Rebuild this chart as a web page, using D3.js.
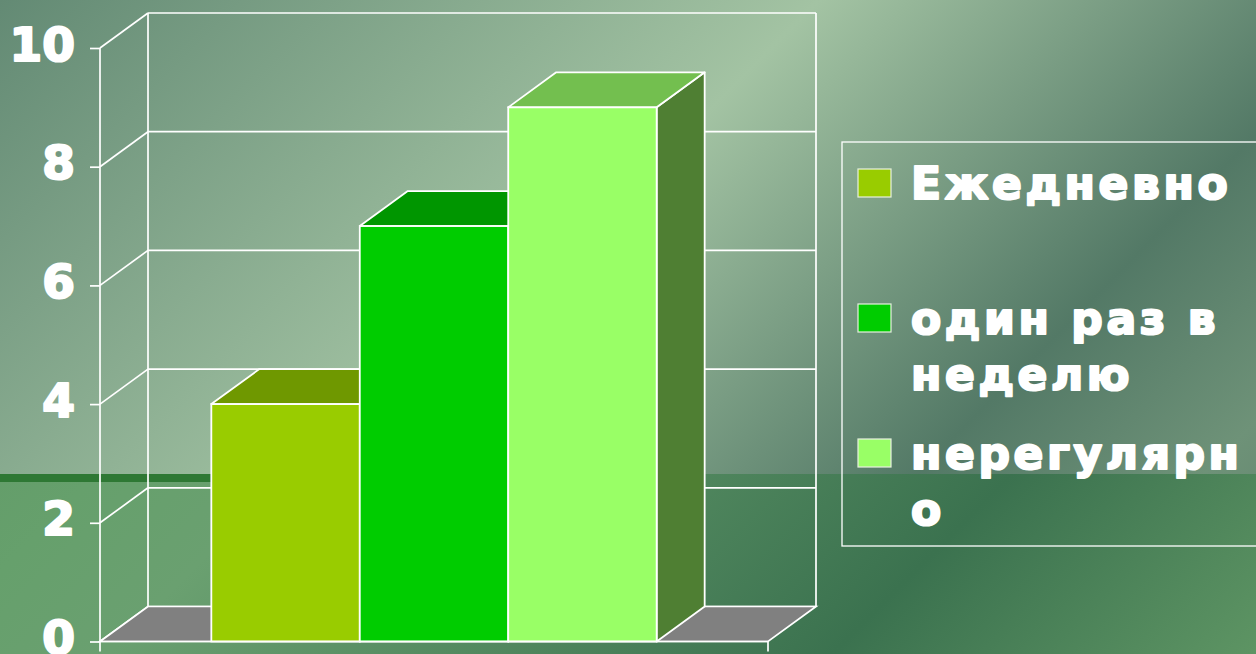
<!DOCTYPE html>
<html>
<head>
<meta charset="utf-8">
<script src="https://cdn.jsdelivr.net/npm/d3@7/dist/d3.min.js"></script>
<style>
  html, body { margin: 0; padding: 0; background: #5a8a68; overflow: hidden; }
  svg { display: block; }
</style>
</head>
<body>
<svg id="chart" width="1256" height="654"></svg>
<script>
// ---- data ----
const series = ["Ежедневно", "один раз в неделю", "нерегулярно"];
const values = [4, 7, 9];
const legendLines = [["Ежедневно"], ["один раз в", "неделю"], ["нерегулярн", "о"]];
const yTicks = [0, 2, 4, 6, 8, 10];
const frontColors = ["#99cc00", "#00cc00", "#99ff66"];
const topColors = ["#6f9800", "#009600", "#73bf4f"];
const sideColors = ["#4d6600", "#006600", "#4f7f33"];

// ---- layout ----
const W = 1256, H = 654;
const svg = d3.select("#chart");
const defs = svg.append("defs");

// background gradients
function grad(id, stops) {
  const g = defs.append("linearGradient").attr("id", id)
    .attr("gradientUnits", "userSpaceOnUse")
    .attr("x1", 0).attr("y1", 0).attr("x2", 953).attr("y2", 953);
  stops.forEach(s => g.append("stop").attr("offset", s[0]).attr("stop-color", s[1]));
}
grad("bgTop", [[0, "#638a74"], [0.43, "#a3c3a3"], [0.73, "#537966"], [0.88, "#6e9278"], [1, "#5f806a"]]);
grad("bgBot", [[0, "#5a9262"], [0.3, "#66a06c"], [0.4, "#6aa070"], [0.78, "#3b724f"], [1, "#5d9463"]]);
const stripe = defs.append("linearGradient").attr("id", "stripe")
  .attr("x1", 0).attr("y1", 0).attr("x2", 1).attr("y2", 0);
stripe.append("stop").attr("offset", 0).attr("stop-color", "#2e7834").attr("stop-opacity", 1);
stripe.append("stop").attr("offset", 0.45).attr("stop-color", "#2e7834").attr("stop-opacity", 1);
stripe.append("stop").attr("offset", 1).attr("stop-color", "#2e7834").attr("stop-opacity", 0);

const splitY = 474;
svg.append("rect").attr("x", 0).attr("y", 0).attr("width", W).attr("height", splitY).attr("fill", "url(#bgTop)");
svg.append("rect").attr("x", 0).attr("y", splitY).attr("width", W).attr("height", H - splitY).attr("fill", "url(#bgBot)");
svg.append("rect").attr("x", 0).attr("y", splitY).attr("width", 600).attr("height", 8).attr("fill", "url(#stripe)");

// scales
const y = d3.scaleLinear().domain([0, 10]).range([641.5, 48]);
const x = d3.scaleBand().domain(series).range([100, 768]).paddingInner(0).paddingOuter(0.75);
const DX = 48, DY = -35;
const [xL, xR] = x.range();
const y0 = y(0);

const lineStyle = sel => sel.attr("stroke", "#ffffff").attr("stroke-width", 1.7).attr("fill", "none");

// walls: gridlines on back wall + diagonals on side wall
const walls = svg.append("g");
yTicks.forEach(v => {
  walls.append("line").attr("x1", xL + DX).attr("x2", xR + DX)
    .attr("y1", y(v) + DY).attr("y2", y(v) + DY).call(lineStyle);
  walls.append("line").attr("x1", xL).attr("x2", xL + DX)
    .attr("y1", y(v)).attr("y2", y(v) + DY).call(lineStyle);
});
walls.append("line").attr("x1", xL + DX).attr("x2", xL + DX)
  .attr("y1", y(10) + DY).attr("y2", y0 + DY).call(lineStyle);
walls.append("line").attr("x1", xR + DX).attr("x2", xR + DX)
  .attr("y1", y(10) + DY).attr("y2", y0 + DY).call(lineStyle);

// floor
svg.append("polygon")
  .attr("points", [[xL, y0], [xR, y0], [xR + DX, y0 + DY], [xL + DX, y0 + DY]].map(p => p.join(",")).join(" "))
  .attr("fill", "#808080").attr("stroke", "#ffffff").attr("stroke-width", 1.7);

// bars
const bw = x.bandwidth();
const bars = svg.append("g");
series.forEach((s, i) => {
  const x0 = x(s), x1 = x0 + bw, yt = y(values[i]);
  const g = bars.append("g");
  g.append("polygon")
    .attr("points", [[x1, yt], [x1 + DX, yt + DY], [x1 + DX, y0 + DY], [x1, y0]].map(p => p.join(",")).join(" "))
    .attr("fill", sideColors[i]).attr("stroke", "#fff").attr("stroke-width", 1.8).attr("stroke-linejoin", "round");
  g.append("polygon")
    .attr("points", [[x0, yt], [x0 + DX, yt + DY], [x1 + DX, yt + DY], [x1, yt]].map(p => p.join(",")).join(" "))
    .attr("fill", topColors[i]).attr("stroke", "#fff").attr("stroke-width", 1.8).attr("stroke-linejoin", "round");
  g.append("rect").attr("x", x0).attr("y", yt).attr("width", bw).attr("height", y0 - yt)
    .attr("fill", frontColors[i]).attr("stroke", "#fff").attr("stroke-width", 1.8);
});

// y axis
const yAxis = d3.axisLeft(y).tickValues(yTicks).tickSize(10).tickSizeOuter(0).tickPadding(15);
const ga = svg.append("g").attr("transform", `translate(${xL},0)`).call(yAxis);
ga.select(".domain").remove();
ga.selectAll(".tick line").attr("stroke", "#fff").attr("stroke-width", 1.7);
ga.selectAll(".tick text")
  .attr("fill", "#fff").attr("stroke", "#fff").attr("stroke-width", 2.2).attr("stroke-linejoin", "round")
  .attr("font-family", "'DejaVu Sans', sans-serif").attr("font-weight", "bold")
  .attr("font-size", 47).attr("dy", 12);
svg.append("line").attr("x1", xL).attr("x2", xL).attr("y1", y(10)).attr("y2", y0 + 10).call(lineStyle);

// bottom axis (front floor edge with outer ticks)
svg.append("line").attr("x1", xL).attr("x2", xR).attr("y1", y0).attr("y2", y0).call(lineStyle);
svg.append("line").attr("x1", xR).attr("x2", xR).attr("y1", y0).attr("y2", y0 + 10).call(lineStyle);

// legend
const lg = svg.append("g");
lg.append("rect").attr("x", 842).attr("y", 142).attr("width", 430).attr("height", 404)
  .attr("fill", "none").attr("stroke", "#ffffff").attr("stroke-width", 1.3);
const itemTop = [169, 304, 439];
const lineGap = 56;
legendLines.forEach((lines, i) => {
  lg.append("rect").attr("x", 858).attr("y", itemTop[i]).attr("width", 33).attr("height", 28)
    .attr("fill", frontColors[i]).attr("stroke", "#e8f0e0").attr("stroke-width", 1.2);
  lines.forEach((t, j) => {
    lg.append("text").attr("x", 911).attr("y", itemTop[i] + 30 + j * lineGap)
      .attr("fill", "#fff").attr("stroke", "#fff").attr("stroke-width", 2.2).attr("stroke-linejoin", "round")
      .attr("font-family", "'DejaVu Sans', sans-serif").attr("font-weight", "bold")
      .attr("font-size", 44).attr("letter-spacing", "3.6px")
      .text(t);
  });
});
</script>
</body>
</html>
